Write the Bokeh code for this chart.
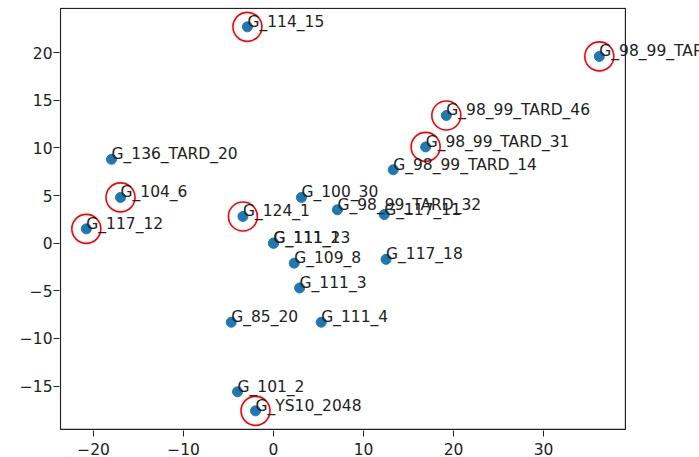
from bokeh.plotting import figure
from bokeh.models import ColumnDataSource, LabelSet, Range1d, FixedTicker
from bokeh.core.properties import value
from bokeh.embed import file_html
from bokeh.resources import INLINE

names = ["G_114_15", "G_98_99_TARD", "G_98_99_TARD_46", "G_98_99_TARD_31",
         "G_98_99_TARD_14", "G_136_TARD_20", "G_104_6", "G_117_12", "G_124_1",
         "G_100_30", "G_98_99_TARD_32", "G_117_11", "G_111_1", "G_111_23",
         "G_109_8", "G_111_3", "G_85_20", "G_111_4", "G_117_18", "G_101_2",
         "G_YS10_2048"]
xs = [-2.9, 36.2, 19.2, 16.9, 13.3, -18.0, -17.0, -20.8, -3.4,
      3.1, 7.1, 12.3, 0.0, 0.0,
      2.3, 2.9, -4.7, 5.3, 12.5, -4.0,
      -2.0]
ys = [22.7, 19.6, 13.4, 10.1, 7.7, 8.8, 4.8, 1.5, 2.8,
      4.8, 3.5, 3.0, 0.0, 0.0,
      -2.1, -4.7, -8.3, -8.3, -1.7, -15.6,
      -17.6]
highlighted = ["G_114_15", "G_98_99_TARD", "G_98_99_TARD_46", "G_98_99_TARD_31",
               "G_104_6", "G_117_12", "G_124_1", "G_YS10_2048"]

x_ticks = [-20, -10, 0, 10, 20, 30]
y_ticks = [-15, -10, -5, 0, 5, 10, 15, 20]

# axes box limits (matplotlib-like)
x_lim = [-23.67, 39.1]
y_lim = [-19.55, 24.63]

def fmt(v):
    return ("\u2212" + str(-v)) if v < 0 else str(v)

src = ColumnDataSource(dict(x=xs, y=ys, name=names))
hx = [xs[names.index(n)] for n in highlighted]
hy = [ys[names.index(n)] for n in highlighted]
hsrc = ColumnDataSource(dict(x=hx, y=hy))

p = figure(frame_width=640, frame_height=423, output_backend="svg",
           toolbar_location=None,
           x_range=Range1d(-23.78, 47.33), y_range=Range1d(-19.66, 24.73),
           min_border_left=59, min_border_right=0, min_border_top=7,
           min_border_bottom=20, background_fill_color="white",
           border_fill_color="white")
p.xgrid.visible = False
p.ygrid.visible = False
p.outline_line_color = None

for ax, ticks in ((p.xaxis[0], x_ticks), (p.yaxis[0], y_ticks)):
    ax.ticker = FixedTicker(ticks=ticks)
    ax.major_label_overrides = {t: fmt(t) for t in ticks}
    ax.minor_tick_line_color = None
    ax.major_tick_out = 6
    ax.major_tick_in = 0
    ax.major_tick_line_color = "#222222"
    ax.axis_line_color = None
    ax.major_label_text_font = "DejaVu Sans"
    ax.major_label_text_font_size = "15.5px"
    ax.major_label_text_color = "#222222"
p.yaxis[0].major_label_standoff = 1
p.xaxis[0].major_label_standoff = 6

# axes box
p.quad(left=[x_lim[0]], right=[x_lim[1]], bottom=[y_lim[0]], top=[y_lim[1]],
       fill_color=None, line_color="#222222", line_width=1.2)

p.scatter("x", "y", source=src, size=10, color="#1f77b4", line_color="#1f77b4")
p.scatter("x", "y", source=hsrc, size=29, fill_color=None, line_color="red",
          line_width=1.6)

labels = LabelSet(x="x", y="y", text="name", source=src,
                  text_font=value("DejaVu Sans"), text_font_size="15.5px",
                  text_color="#222222", text_align="left",
                  text_baseline="alphabetic")
p.add_layout(labels)

open("out.html", "w").write(file_html(p, INLINE))
